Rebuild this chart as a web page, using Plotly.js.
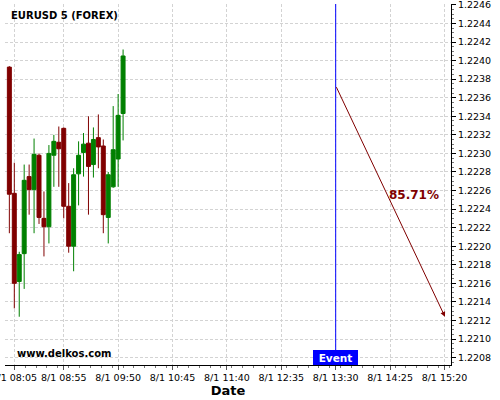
<!DOCTYPE html>
<html>
<head>
<meta charset="utf-8">
<script src="https://cdn.plot.ly/plotly-3.0.1.min.js"></script>
<style>html,body{margin:0;padding:0;background:#fff;}#chart{width:500px;height:400px;}</style>
</head>
<body>
<div id="chart"></div>
<script>
const times = ['2021-01-08 08:00','2021-01-08 08:05','2021-01-08 08:10','2021-01-08 08:15','2021-01-08 08:20','2021-01-08 08:25',
  '2021-01-08 08:30','2021-01-08 08:35','2021-01-08 08:40','2021-01-08 08:45','2021-01-08 08:50','2021-01-08 08:55',
  '2021-01-08 09:00','2021-01-08 09:05','2021-01-08 09:10','2021-01-08 09:15','2021-01-08 09:20','2021-01-08 09:25',
  '2021-01-08 09:30','2021-01-08 09:35','2021-01-08 09:40','2021-01-08 09:45','2021-01-08 09:50','2021-01-08 09:55'];
const openV  = [1.22393,1.22257,1.22162,1.22192,1.22275,1.22261,1.22298,1.22230,1.22221,1.22298,1.22312,1.22327,
  1.22243,1.22200,1.22278,1.22301,1.22311,1.22288,1.22317,1.22308,1.22231,1.22264,1.22294,1.22343];
const highV  = [1.22394,1.22290,1.22194,1.22288,1.22288,1.22316,1.22300,1.22259,1.22309,1.22320,1.22329,1.22328,
  1.22268,1.22284,1.22313,1.22322,1.22340,1.22328,1.22342,1.22315,1.22280,1.22351,1.22364,1.22412];
const lowV   = [1.22214,1.22133,1.22124,1.22154,1.22234,1.22214,1.22224,1.22189,1.22203,1.22264,1.22264,1.22230,
  1.22193,1.22173,1.22244,1.22275,1.22234,1.22274,1.22284,1.22214,1.22203,1.22263,1.22264,1.22314];
const closeV = [1.22256,1.22160,1.22191,1.22271,1.22261,1.22299,1.22231,1.22221,1.22300,1.22313,1.22305,1.22243,
  1.22200,1.22277,1.22298,1.22310,1.22286,1.22315,1.22307,1.22234,1.22277,1.22304,1.22341,1.22405];

const xTickVals = ['2021-01-08 08:05','2021-01-08 08:55','2021-01-08 09:50','2021-01-08 10:45','2021-01-08 11:40',
  '2021-01-08 12:35','2021-01-08 13:30','2021-01-08 14:25','2021-01-08 15:20'];
const xTickText = ['8/1 08:05','8/1 08:55','8/1 09:50','8/1 10:45','8/1 11:40','8/1 12:35','8/1 13:30','8/1 14:25','8/1 15:20'];

const eventTime = '2021-01-08 13:30';
const forecastStart = ['2021-01-08 13:30', 1.22373];
const forecastEnd = ['2021-01-08 15:20:30', 1.22124];
const forecastLabel = ['2021-01-08 14:49', 1.22255, '85.71%'];
const xRange = ['2021-01-08 07:55:36', '2021-01-08 15:26:36'];
const yRange = [1.22072, 1.22461];

const RED = '#800000', GREEN = '#008000';
const gridCol = '#d3d3d3';

const trace = {
  type: 'candlestick', x: times, open: openV, high: highV, low: lowV, close: closeV,
  increasing: {line: {color: GREEN, width: 1}, fillcolor: GREEN},
  decreasing: {line: {color: RED, width: 1}, fillcolor: RED},
  whiskerwidth: 0, hoverinfo: 'skip', showlegend: false
};

const layout = {
  width: 500, height: 400,
  margin: {l: 5, r: 49, t: 4, b: 35},
  paper_bgcolor: '#fff', plot_bgcolor: '#fff',
  font: {family: 'DejaVu Sans', size: 9.5, color: '#000'},
  boxgap: 0.2, boxgroupgap: 0,
  showlegend: false,
  title: {text: '<b>EURUSD 5 (FOREX)</b>', font: {family: 'DejaVu Sans', size: 10, color: '#000'},
    x: 0.022, xanchor: 'left', xref: 'container', y: 0.962, yanchor: 'middle', yref: 'container'},
  xaxis: {
    type: 'date', range: xRange, rangeslider: {visible: false},
    tickmode: 'array', tickvals: xTickVals, ticktext: xTickText,
    ticks: 'outside', ticklen: 4, tickcolor: '#555', ticklabeloverflow: 'allow',
    showgrid: true, gridcolor: gridCol, griddash: '3px,2px', gridwidth: 1,
    showline: true, linecolor: '#000', linewidth: 1, zeroline: false,
    minor: {dtick: 11 * 60000, tick0: '2021-01-08 08:05', ticks: 'outside', ticklen: 2, tickcolor: '#777', showgrid: false},
    title: {text: '<b>Date</b>', font: {family: 'DejaVu Sans', size: 13}, standoff: 1},
    fixedrange: true
  },
  yaxis: {
    side: 'right', range: yRange, tick0: 1.2208, dtick: 0.0002, tickformat: '.4f',
    ticks: 'outside', ticklen: 4, tickcolor: '#000', ticklabeloverflow: 'allow',
    showgrid: true, gridcolor: gridCol, griddash: '3px,2px', gridwidth: 1,
    showline: true, linecolor: '#000', linewidth: 1, zeroline: false,
    minor: {dtick: 0.00005, ticks: 'outside', ticklen: 2, tickcolor: '#777', showgrid: false},
    fixedrange: true
  },
  shapes: [
    {type: 'line', xref: 'x', yref: 'paper', x0: eventTime, x1: eventTime, y0: 0, y1: 1,
     line: {color: '#0000ff', width: 1}}
  ],
  annotations: [
    {xref: 'x', yref: 'y', axref: 'x', ayref: 'y', x: forecastEnd[0], y: forecastEnd[1],
     ax: forecastStart[0], ay: forecastStart[1], text: '', showarrow: true,
     arrowhead: 2, arrowsize: 1, arrowwidth: 1, arrowcolor: RED},
    {xref: 'x', yref: 'y', x: forecastLabel[0], y: forecastLabel[1], text: '<b>' + forecastLabel[2] + '</b>',
     showarrow: false, font: {family: 'DejaVu Sans', size: 12, color: RED}},
    {xref: 'x', yref: 'paper', x: eventTime, y: 0, yanchor: 'bottom', xanchor: 'center',
     text: '<b>Event</b>', showarrow: false, bgcolor: '#0000ff', width: 45, height: 15,
     borderpad: 0, borderwidth: 0, font: {family: 'DejaVu Sans', size: 10.5, color: '#fff'}},
    {xref: 'paper', yref: 'paper', x: 0.0224, y: 0.033, xanchor: 'left', yanchor: 'middle',
     text: '<b>www.delkos.com</b>', showarrow: false, font: {family: 'DejaVu Sans', size: 10, color: '#000'}}
  ]
};

Plotly.newPlot('chart', [trace], layout, {staticPlot: true, displayModeBar: false});
</script>
</body>
</html>
